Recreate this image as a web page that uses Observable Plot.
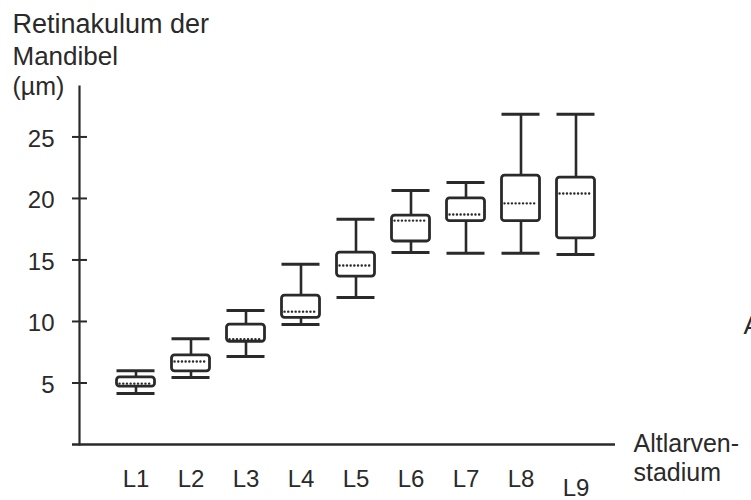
<!DOCTYPE html>
<html>
<head>
<meta charset="utf-8">
<script src="https://cdn.jsdelivr.net/npm/d3@7"></script>
<script src="https://cdn.jsdelivr.net/npm/@observablehq/plot@0.6"></script>
<style>
  html, body { margin: 0; padding: 0; background: #ffffff; }
  svg { font-family: "Liberation Sans", Arial, sans-serif; }
</style>
</head>
<body>
<div id="chart"></div>
<script>
const stages      = ["L1", "L2", "L3", "L4", "L5", "L6", "L7", "L8", "L9"];
const whiskerLow  = [4.15, 5.45, 7.15, 9.75, 11.95, 15.6, 15.55, 15.55, 15.45];
const boxLow      = [4.7, 5.95, 8.35, 10.3, 13.65, 16.5, 18.15, 18.15, 16.75];
const medians     = [4.95, 6.75, 8.55, 10.8, 14.55, 18.2, 18.7, 19.6, 20.4];
const boxHigh     = [5.45, 7.25, 9.75, 12.1, 15.6, 18.6, 20.0, 21.85, 21.7];
const whiskerHigh = [6.0, 8.6, 10.9, 14.65, 18.3, 20.65, 21.3, 26.85, 26.85];
const yTicks      = [5, 10, 15, 20, 25];
const titleLines  = ["Retinakulum der", "Mandibel", "(µm)"];
const xTitleLines = ["Altlarven-", "stadium"];

const data = stages.map((s, i) => ({
  stage: s,
  min: whiskerLow[i], q1: boxLow[i], med: medians[i], q3: boxHigh[i], max: whiskerHigh[i]
}));

const ink = "#2a2a2a";
const boxInset = 8.5;
const W = 751, H = 500, mL = 79, mR = 136, mT = 86, mB = 56;
const frameW = W - mL - mR;

const chart = Plot.plot({
  width: W,
  height: H,
  marginLeft: mL,
  marginRight: mR,
  marginTop: mT,
  marginBottom: mB,
  style: { background: "#ffffff", color: ink, fontFamily: "Liberation Sans, Arial, sans-serif" },
  x: { type: "band", domain: stages, range: [107.5, 602.5], padding: 0, axis: null },
  y: { domain: [0, 29.1], axis: null },
  marks: [
    // axes lines
    Plot.frame({ anchor: "left", stroke: ink, strokeWidth: 2.2 }),
    Plot.ruleY([0], { stroke: ink, strokeWidth: 2.6, insetLeft: -7 }),
    // y ticks crossing the axis
    Plot.tickY(yTicks, { y: d => d, stroke: ink, strokeWidth: 2, insetLeft: -7, insetRight: frameW - 8 }),
    Plot.axisY({ ticks: yTicks, tickSize: 0, tickPadding: 25, stroke: "none", fill: ink, fontSize: 24, dy: 2, label: null }),
    // whiskers
    Plot.ruleX(data, { x: "stage", y1: "min", y2: "q1", stroke: ink, strokeWidth: 2.6 }),
    Plot.ruleX(data, { x: "stage", y1: "q3", y2: "max", stroke: ink, strokeWidth: 2.6 }),
    Plot.tickY(data, { x: "stage", y: "min", stroke: ink, strokeWidth: 3, inset: boxInset }),
    Plot.tickY(data, { x: "stage", y: "max", stroke: ink, strokeWidth: 3, inset: boxInset }),
    // boxes
    Plot.barY(data, { x: "stage", y1: "q1", y2: "q3", fill: "white", stroke: ink, strokeWidth: 2.8, insetLeft: boxInset, insetRight: boxInset, rx: 3 }),
    // medians (dotted)
    Plot.tickY(data, { x: "stage", y: "med", stroke: ink, strokeWidth: 2.4, strokeDasharray: "0.1 3.6", strokeLinecap: "round", inset: boxInset + 3 }),
    // x tick labels
    Plot.text(stages.slice(0, 8), { x: d => d, frameAnchor: "bottom", dy: 42, lineAnchor: "bottom", fontSize: 24, fill: ink }),
    Plot.text(stages.slice(8), { x: d => d, frameAnchor: "bottom", dy: 51, lineAnchor: "bottom", fontSize: 24, fill: ink }),
    // y title
    Plot.text([titleLines[0]], { frameAnchor: "top-left", dx: -67, dy: -54, textAnchor: "start", lineAnchor: "bottom", fontSize: 27, fill: ink }),
    Plot.text([titleLines[1]], { frameAnchor: "top-left", dx: -67, dy: -22, textAnchor: "start", lineAnchor: "bottom", fontSize: 26, fill: ink }),
    Plot.text([titleLines[2]], { frameAnchor: "top-left", dx: -67, dy: 8, textAnchor: "start", lineAnchor: "bottom", fontSize: 25, fill: ink }),
    // x title
    Plot.text([xTitleLines[0]], { frameAnchor: "bottom-right", dx: 18, dy: 7, textAnchor: "start", lineAnchor: "bottom", fontSize: 25, fill: ink }),
    Plot.text([xTitleLines[1]], { frameAnchor: "bottom-right", dx: 18, dy: 36, textAnchor: "start", lineAnchor: "bottom", fontSize: 25, fill: ink }),
    // partial panel letter at right edge
    Plot.text(["A"], { frameAnchor: "right", dx: 128, dy: 68, textAnchor: "start", lineAnchor: "bottom", fontSize: 26, fill: ink })
  ]
});

document.getElementById("chart").appendChild(chart);
</script>
</body>
</html>
